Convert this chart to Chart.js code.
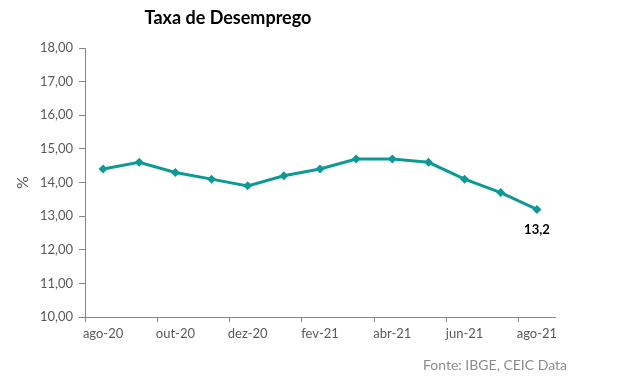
<!DOCTYPE html>
<html>
<head>
<meta charset="utf-8">
<script src="https://cdn.jsdelivr.net/npm/chart.js@4"></script>
<style>
  html, body { margin: 0; padding: 0; background: #fff; }
  #wrap { width: 644px; height: 383px; }
</style>
</head>
<body>
<div id="wrap"><canvas id="chart" width="644" height="383"></canvas></div>
<script>
const months = ['ago-20', 'set-20', 'out-20', 'nov-20', 'dez-20', 'jan-21', 'fev-21',
  'mar-21', 'abr-21', 'mai-21', 'jun-21', 'jul-21', 'ago-21'];
const unemployment = [14.4, 14.6, 14.3, 14.1, 13.9, 14.2, 14.4, 14.7, 14.7, 14.6, 14.1, 13.7, 13.2];
const yTicks = [10, 11, 12, 13, 14, 15, 16, 17, 18];

const FONT = 'Lato, "Liberation Sans", sans-serif';
const TEAL = '#0d9a96';
const AXIS = '#868686';

// title, source note and the last value label
const extras = {
  id: 'extras',
  afterDraw(chart) {
    const ctx = chart.ctx;
    ctx.save();
    ctx.fillStyle = '#000';
    ctx.font = 'bold 18px ' + FONT;
    ctx.textAlign = 'center';
    ctx.textBaseline = 'middle';
    ctx.fillText('Taxa de Desemprego', 228, 18);

    ctx.font = '14px ' + FONT;
    ctx.fillStyle = '#8c8c8c';
    ctx.textAlign = 'right';
    ctx.fillText('Fonte: IBGE, CEIC Data', 567, 365);

    const meta = chart.getDatasetMeta(0);
    const last = meta.data[meta.data.length - 1];
    const v = unemployment[unemployment.length - 1];
    ctx.font = 'bold 13px ' + FONT;
    ctx.fillStyle = '#000';
    ctx.textAlign = 'center';
    ctx.fillText(v.toFixed(1).replace('.', ','), last.x, last.y + 20);
    ctx.restore();
  }
};

new Chart(document.getElementById('chart'), {
  type: 'line',
  data: {
    labels: months,
    datasets: [{
      data: unemployment,
      borderColor: TEAL,
      backgroundColor: TEAL,
      borderWidth: 3,
      pointStyle: 'rectRot',
      pointRadius: 4.5,
      pointBorderWidth: 0,
      tension: 0
    }]
  },
  options: {
    responsive: false,
    animation: false,
    layout: { padding: { top: 48, right: 89, bottom: 0, left: 0 } },
    plugins: { legend: { display: false }, tooltip: { enabled: false } },
    scales: {
      x: {
        offset: true,
        grid: {
          offset: true,
          drawOnChartArea: false,
          tickLength: 5,
          color: (c) => (c.index % 2 === 0 ? AXIS : 'rgba(0,0,0,0)')
        },
        border: { color: AXIS, width: 1 },
        ticks: {
          autoSkip: false,
          maxRotation: 0,
          padding: 4,
          color: '#595959',
          font: { family: FONT, size: 13 },
          callback: (val, i) => (i % 2 === 0 ? months[i] : '')
        },
        afterFit: (s) => { s.height = 66; }
      },
      y: {
        min: 10,
        max: 18,
        afterBuildTicks: (s) => { s.ticks = yTicks.map((v) => ({ value: v })); },
        grid: { drawOnChartArea: false, tickLength: 6, color: AXIS },
        border: { color: AXIS, width: 1 },
        ticks: {
          padding: 6,
          color: '#595959',
          font: { family: FONT, size: 13 },
          callback: (v) => v.toFixed(2).replace('.', ',')
        },
        title: {
          display: true,
          text: '%',
          color: '#595959',
          font: { family: FONT, size: 16 },
          padding: { top: 13, bottom: 0 }
        },
        afterFit: (s) => { s.width = 85; }
      }
    }
  },
  plugins: [extras]
});
</script>
</body>
</html>
